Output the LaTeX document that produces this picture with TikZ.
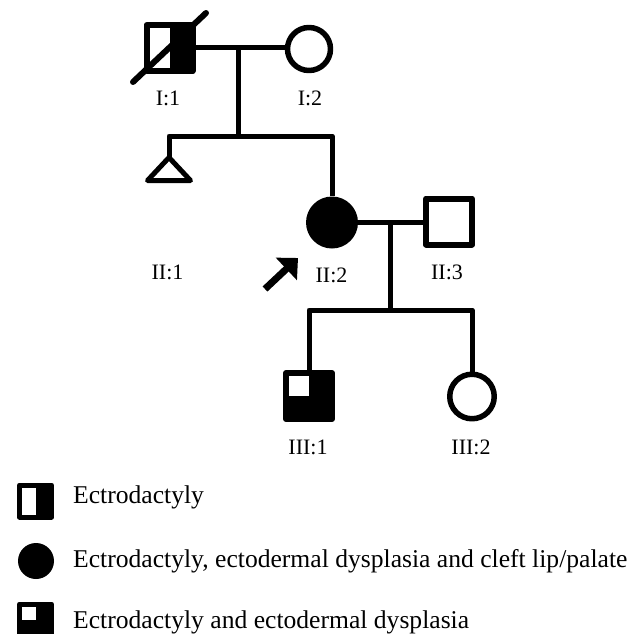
\documentclass[tikz,border=0pt]{standalone}
\usepackage{fontspec}
\setmainfont{Liberation Serif}
\usetikzlibrary{arrows.meta}
\begin{document}
\begin{tikzpicture}[x=1pt,y=-1pt,
  line join=round,
  lbl/.style={font=\fontsize{22}{22}\selectfont, anchor=base, inner sep=0},
  leg/.style={font=\fontsize{25.6}{25.6}\selectfont, anchor=base west, inner sep=0},
  male/.style={draw, rectangle, line width=6pt, minimum size=46pt, inner sep=0},
  female/.style={draw, circle, line width=5.5pt, minimum size=43pt, inner sep=0},
  affected/.style={circle, fill=black, inner sep=0},
  halfright/.style={path picture={\fill[black] (path picture bounding box.south) rectangle (path picture bounding box.north east);}},
  quarter/.style={path picture={\fill[black] (path picture bounding box.south west) rectangle (path picture bounding box.north east);
      \fill[white] (path picture bounding box.north west) rectangle (path picture bounding box.center);}},
  conn/.style={line width=5pt},
]
\useasboundingbox (0,0) rectangle (631,634);

% generation I
\node[male, halfright] (i1) at (169.5,48) {};
\node[female] (i2) at (309,49) {};
\draw[line width=6pt, line cap=round] (i1) ++(-36.5,34) coordinate (sl1) -- ++(73,-69) coordinate (sl2);

% generation II
\coordinate (ii1) at (169,157.5);
\draw[line width=5pt, line join=round] (ii1) -- (147.5,180.5) -- (190.5,180.5) -- cycle;
\node[affected, minimum size=52pt] (ii2) at (332,222.5) {};
\node[male] (ii3) at (449,221.5) {};

% generation III
\node[male, quarter] (iii1) at (309,396) {};
\node[female, minimum size=44.5pt] (iii2) at (472,396.5) {};

% connectors
\coordinate (d1) at (238.5,48);
\coordinate (s1) at (238.5,136);
\draw[conn] (i1.east) -- (i1.east -| i2.west);
\draw[conn] (d1) -- (s1);
\draw[conn] (ii1) |- (ii2.north |- s1) -- (ii2.north);

\coordinate (d2) at (390,222);
\coordinate (s2) at (390,310);
\draw[conn] (ii2.east) -- (ii2.east -| ii3.west);
\draw[conn] (d2) -- (s2);
\draw[conn] (iii1.north) |- (iii2.north |- s2) -- (iii2.north);

% proband arrow
\coordinate (arrs) at (265,289);
\coordinate (arre) at (298,258);
\draw[line width=7pt, -{Triangle[length=16pt,width=30pt]}] (arrs) -- (arre);

% labels
\node[lbl] (li1) at (168,105) {I:1};
\node[lbl] (li2) at (310,105) {I:2};
\node[lbl] (lii1) at (167.5,279) {II:1};
\node[lbl] (lii2) at (331.5,282) {II:2};
\node[lbl] (lii3) at (447,279) {II:3};
\node[lbl] (liii1) at (308,454) {III:1};
\node[lbl] (liii2) at (471,454) {III:2};

% legend
\node[male, line width=5pt, minimum size=32pt, halfright] (l1) at (35.5,501) {};
\node[affected, minimum size=36pt] (l2) at (36,561) {};
\node[male, line width=5pt, minimum size=32pt, quarter] (l3) at (35.5,620) {};
\node[leg] (t1) at (73,503) {Ectrodactyly};
\node[leg] (t2) at (73,567) {Ectrodactyly, ectodermal dysplasia and cleft lip/palate};
\node[leg] (t3) at (73,628) {Ectrodactyly and ectodermal dysplasia};
\end{tikzpicture}
\end{document}
